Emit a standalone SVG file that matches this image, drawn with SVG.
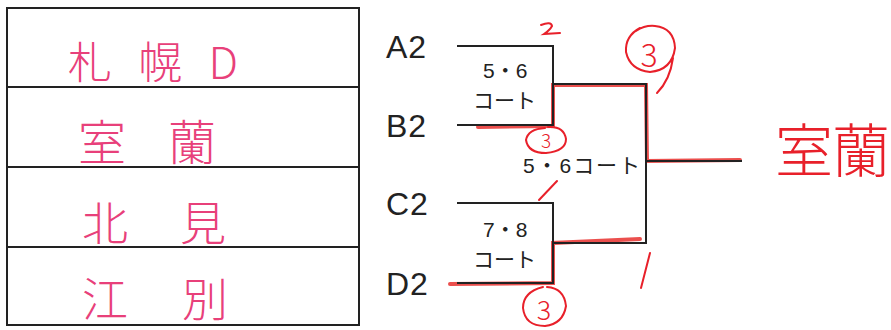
<svg xmlns="http://www.w3.org/2000/svg" width="891" height="330" viewBox="0 0 891 330">
<style>
.bk{stroke:#222;stroke-width:2;fill:none}
.hl{stroke:#e8302e;stroke-width:4;fill:none;opacity:0.85;stroke-linecap:round}
.pen{stroke:#e8202a;stroke-width:2;fill:none;stroke-linecap:round}
.lbl{font-family:"Liberation Sans","Noto Sans CJK JP",sans-serif;fill:#222}
.team{font-family:"Liberation Sans",sans-serif;fill:#222;font-size:32px;letter-spacing:1px}
.hand{font-family:"Noto Sans CJK JP",sans-serif;fill:#e8407a;font-weight:300}
.red{font-family:"Noto Sans CJK JP",sans-serif;fill:#e8202a;font-weight:300}
</style>
<rect width="891" height="330" fill="#fff"/>
<g id="table">
<rect x="7" y="8" width="352" height="317" class="bk"/>
<line x1="7" y1="87" x2="359" y2="87" class="bk"/>
<line x1="7" y1="167" x2="359" y2="167" class="bk"/>
<line x1="7" y1="247" x2="359" y2="247" class="bk"/>
</g>
<g id="row1"><text class="hand" x="68" y="79" font-size="44" textLength="170">札幌D</text></g>
<g id="row2"><text class="hand" font-size="48" y="160"><tspan x="78">室</tspan><tspan x="168">蘭</tspan></text></g>
<g id="row3"><text class="hand" font-size="46" y="240"><tspan x="82">北</tspan><tspan x="180">見</tspan></text></g>
<g id="row4"><text class="hand" font-size="46" y="316"><tspan x="82">江</tspan><tspan x="182">別</tspan></text></g>
<g id="connectors">
<path class="hl" d="M478 127 L553 126 L553 85 L646 85 L647 161 L740 160"/>
<path class="hl" d="M450 284 L553 283 L553 243 L640 239"/>
<path class="bk" d="M457 46 H553 V125 H457"/>
<path class="bk" d="M457 203 H553 V283 H457"/>
<path class="bk" d="M553 84 H646 V243 H553"/>
<path class="bk" d="M646 161 H742"/>
</g>
<g id="teamA"><text class="team" x="386" y="58">A2</text></g>
<g id="teamB"><text class="team" x="386" y="137">B2</text></g>
<g id="teamC"><text class="team" x="386" y="215">C2</text></g>
<g id="teamD"><text class="team" x="386" y="295">D2</text></g>
<g id="court56a"><text class="lbl" font-size="21"><tspan x="483" y="78">5・6</tspan><tspan x="473" y="108">コート</tspan></text></g>
<g id="court78"><text class="lbl" font-size="21"><tspan x="483" y="237">7・8</tspan><tspan x="473" y="267">コート</tspan></text></g>
<g id="court56b"><text class="lbl" x="523" y="173" font-size="21" textLength="117">5・6コート</text></g>
<g id="marks">
<path class="pen" d="M541 25 Q551 21 552 26 Q550 30 544 34 L560 33"/>
<path class="pen" d="M640 28 Q625 36 626 52 Q630 70 650 72 Q672 70 675 48 Q674 28 655 26 Q645 25 636 31 M673 58 Q670 80 657 93"/>
<text class="red" x="649" y="67" font-size="32" text-anchor="middle">3</text>
<path class="pen" d="M545 128 Q528 129 526 140 Q528 153 546 153 Q566 151 566 139 Q564 126 548 127"/>
<text class="red" x="546" y="148" font-size="19" text-anchor="middle">3</text>
<path class="pen" d="M539 200 L557 181"/>
<path class="pen" d="M650 253 L641 288"/>
<path class="pen" d="M543 287 Q523 292 523 308 Q525 326 545 326 Q563 324 566 306 Q564 288 547 287"/>
<text class="red" x="544" y="320" font-size="27" text-anchor="middle">3</text>
</g>
<g id="winner"><text class="red" font-size="58" y="172"><tspan x="775">室</tspan><tspan x="832">蘭</tspan></text></g>
</svg>
